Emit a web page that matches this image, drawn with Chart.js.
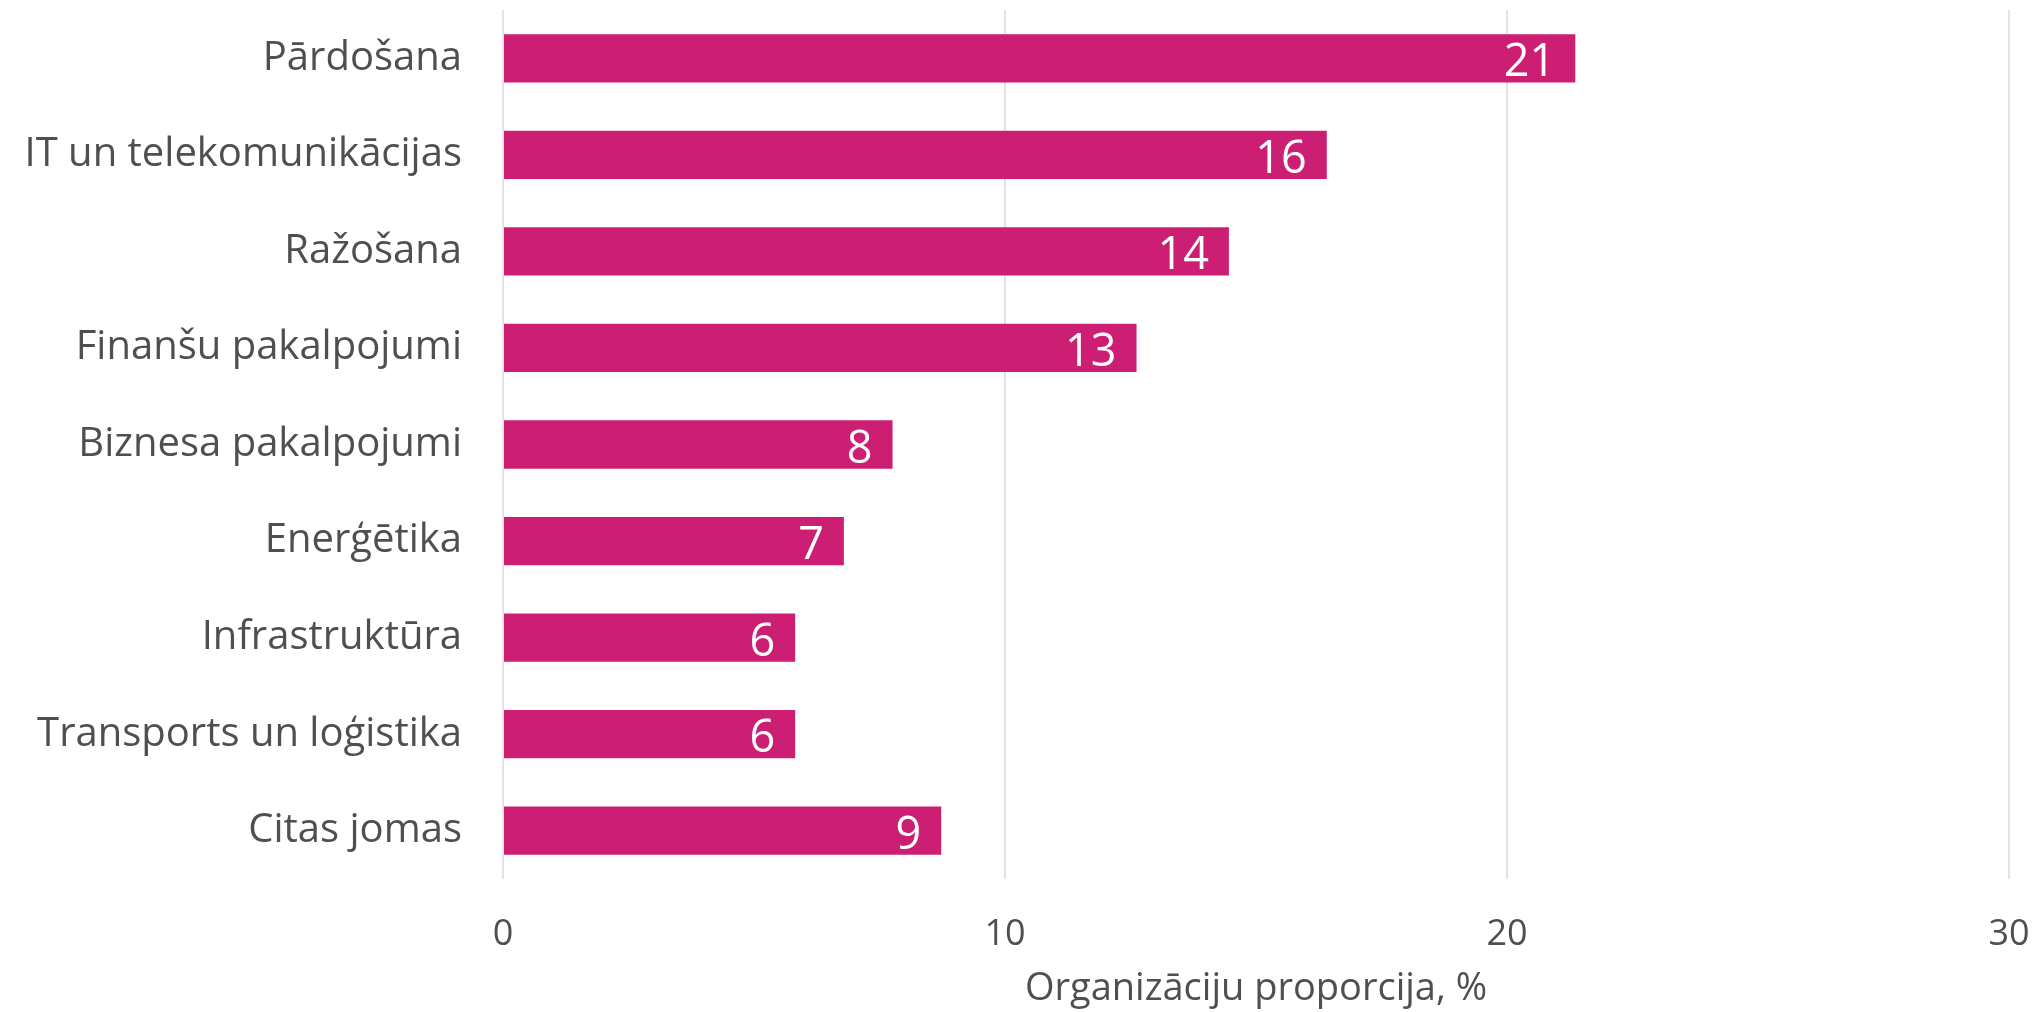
<!DOCTYPE html>
<html>
<head>
<meta charset="utf-8">
<script src="https://cdn.jsdelivr.net/npm/chart.js@4/dist/chart.umd.min.js"></script>
<style>
  html, body { margin: 0; padding: 0; background: #fff; }
  #wrap { width: 2035px; height: 1012px; }
</style>
</head>
<body>
<div id="wrap"><canvas id="chart-sectors"></canvas></div>
<script>
// ── Data ─────────────────────────────────────────────────
const SECTORS = [
  "Pārdošana",
  "IT un telekomunikācijas",
  "Ražošana",
  "Finanšu pakalpojumi",
  "Biznesa pakalpojumi",
  "Enerģētika",
  "Infrastruktūra",
  "Transports un loģistika",
  "Citas jomas"
];
const SHARE = [21.36, 16.41, 14.46, 12.62, 7.76, 6.79, 5.82, 5.82, 8.73];
const X_TICKS = [0, 10, 20, 30];
const X_TITLE = "Organizāciju proporcija, %";

// ── Theme ────────────────────────────────────────────────
const BAR_COLOR = "#cc1f74";
const TEXT_COLOR = "#4f4f4f";
const GRID_COLOR = "#e3e3e3";
const FONT = "'Open Sans', 'Noto Sans', Arial, sans-serif";
Chart.defaults.font.family = FONT;
Chart.defaults.color = TEXT_COLOR;

// value labels inside bar ends (no datalabels plugin available offline)
const barValuePlugin = {
  id: "barValues",
  afterDatasetsDraw: (chart) => {
    const { ctx } = chart;
    const meta = chart.getDatasetMeta(0);
    ctx.save();
    ctx.font = "45px " + FONT;
    ctx.fillStyle = "#ffffff";
    ctx.textAlign = "right";
    ctx.textBaseline = "alphabetic";
    meta.data.forEach((bar, i) => {
      const v = Math.round(chart.data.datasets[0].data[i]);
      ctx.fillText(String(v), bar.x - 20, bar.y + 18);
    });
    ctx.restore();
  }
};

new Chart(document.getElementById("chart-sectors"), {
  type: "bar",
  data: {
    labels: SECTORS,
    datasets: [{
      data: SHARE,
      backgroundColor: BAR_COLOR,
      borderWidth: 0,
      barPercentage: 0.5,
      categoryPercentage: 1.0
    }]
  },
  plugins: [barValuePlugin],
  options: {
    indexAxis: "y",
    responsive: true,
    maintainAspectRatio: false,
    animation: false,
    layout: { padding: { top: 10, right: 26, bottom: 0, left: 0 } },
    plugins: {
      legend: { display: false },
      tooltip: { enabled: false }
    },
    scales: {
      x: {
        min: 0,
        max: 30,
        afterBuildTicks: (scale) => { scale.ticks = X_TICKS.map(v => ({ value: v })); },
        afterFit: (scale) => {
          scale.height = 133;
          scale.paddingLeft = 0;
          scale.paddingRight = 0;
        },
        border: { display: false },
        grid: { color: GRID_COLOR, lineWidth: 2, drawTicks: false },
        ticks: { font: { size: 36 }, padding: 34, color: TEXT_COLOR },
        title: {
          display: true,
          text: X_TITLE,
          font: { size: 38 },
          color: TEXT_COLOR,
          padding: { top: 0, bottom: 0 }
        }
      },
      y: {
        afterFit: (scale) => {
          scale.width = 503;
          scale.paddingTop = 0;
          scale.paddingBottom = 0;
        },
        border: { display: false },
        grid: { display: false, drawTicks: false },
        ticks: { font: { size: 40 }, padding: 41, color: TEXT_COLOR, autoSkip: false }
      }
    }
  }
});
</script>
</body>
</html>
